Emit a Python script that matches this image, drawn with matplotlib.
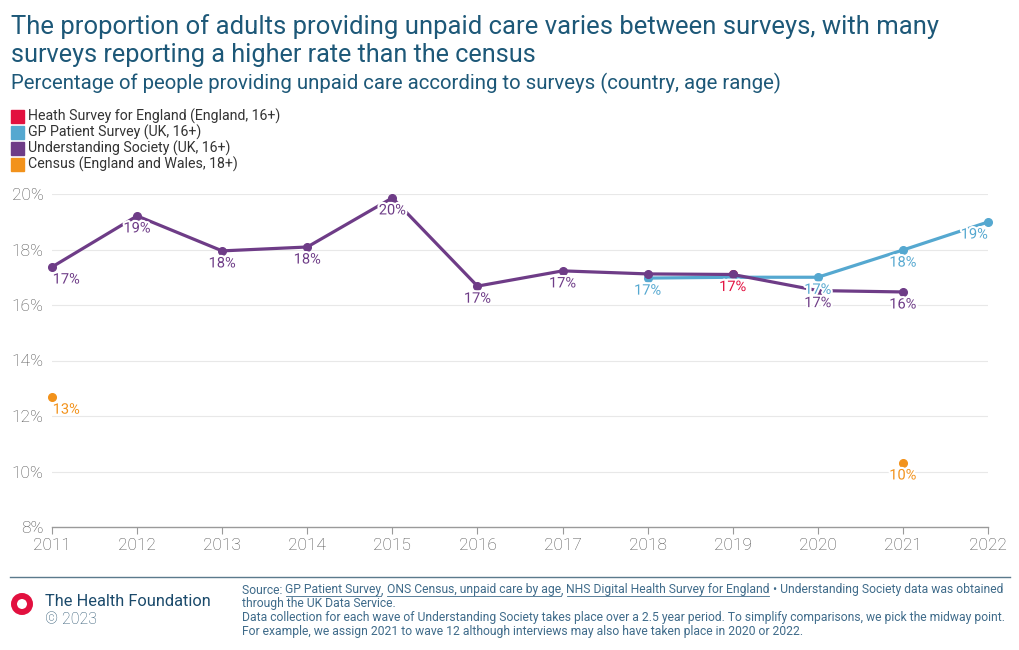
import matplotlib
matplotlib.use("Agg")
import matplotlib.pyplot as plt
import matplotlib.patheffects as pe
from matplotlib.patches import Ellipse, Rectangle
from matplotlib.lines import Line2D

# ---------------- data ----------------
years = list(range(2011, 2023))
hse_years = [2019]
hse_vals = [17.1]
gp_years = [2018, 2019, 2020, 2021, 2022]
gp_vals = [16.97, 17.0, 17.0, 17.98, 18.99]
us_years = [2011, 2012, 2013, 2014, 2015, 2016, 2017, 2018, 2019, 2020, 2021]
us_vals = [17.37, 19.21, 17.95, 18.09, 19.86, 16.68, 17.23, 17.12, 17.10, 16.52, 16.47]
census_years = [2011, 2021]
census_vals = [12.68, 10.31]
y_ticks = [8, 10, 12, 14, 16, 18, 20]
series_names = ["Heath Survey for England (England, 16+)",
                "GP Patient Survey (UK, 16+)",
                "Understanding Society (UK, 16+)",
                "Census (England and Wales, 18+)"]
# years whose labels are hidden in the reference (overlapping values)
gp_hidden = [2019]
us_hidden = [2018, 2019]

RED = "#e2103f"
BLUE = "#55a8d0"
PURPLE = "#6e3c87"
ORANGE = "#f2921b"
TITLE = "#1d5878"
GRAY = "#505050"

W, H = 1020, 650
fig = plt.figure(figsize=(W / 100, H / 100), dpi=100)
plt.rcParams["font.family"] = ["Roboto", "DejaVu Sans"]
fig.canvas.draw()
renderer = fig.canvas.get_renderer()


def fx(px):
    return px / W


def fy(py):
    return 1 - py / H


def fit_text(x, yc, s, target_w, fs, **kw):
    t = fig.text(fx(x), fy(yc), s, fontsize=fs, va="center", ha="left", **kw)
    w = t.get_window_extent(renderer).width
    t.set_fontsize(fs * target_w / w)
    return t


ax = fig.add_axes([fx(52), fy(527), fx(988) - fx(52), fy(194) - fy(527)])
ax.set_xlim(2011, 2022)
ax.set_ylim(8, 20)

for s in ["top", "right", "left"]:
    ax.spines[s].set_visible(False)
ax.spines["bottom"].set_color("#9a9a9a")
ax.spines["bottom"].set_linewidth(1.0)
ax.set_yticks(y_ticks)
ax.set_yticklabels([f"{v}%" for v in y_ticks])
ax.set_xticks(years)
ax.set_xticklabels([str(y) for y in years])
ax.tick_params(axis="y", length=0, pad=6, labelsize=12.5, labelcolor=GRAY)
ax.tick_params(axis="x", length=5, color="#9a9a9a", pad=3, labelsize=12.5, labelcolor=GRAY)
for v in y_ticks[1:]:
    ax.axhline(v, color="#e8e8e8", lw=0.8, zorder=0)
for lab in ax.get_yticklabels() + ax.get_xticklabels():
    lab.set_fontweight("light")

halo = [pe.withStroke(linewidth=3, foreground="white")]


def draw_series(xs, ys, color, line=True, z=2):
    if line:
        ax.plot(xs, ys, color=color, lw=2.3, zorder=z, solid_capstyle="round", clip_on=False)
    ax.plot(xs, ys, "o", color=color, ms=5.5, zorder=z + 0.5, clip_on=False)


def labels(xs, ys, color, hidden=(), z=5):
    for x, y in zip(xs, ys):
        if x in hidden:
            continue
        ha = "center"
        dx = 0
        if x == 2011:
            ha = "left"
            dx = 0.5
        elif x == 2022:
            ha = "right"
        ax.annotate(f"{round(y):.0f}%", (x, y), xytext=(dx, -4), textcoords="offset points",
                    ha=ha, va="top", fontsize=10.5, color=color, zorder=z,
                    path_effects=halo, annotation_clip=False)


draw_series(hse_years, hse_vals, RED, line=False, z=2)
draw_series(gp_years, gp_vals, BLUE, z=3)
draw_series(us_years, us_vals, PURPLE, z=4)
draw_series(census_years, census_vals, ORANGE, line=False, z=4)

labels(hse_years, hse_vals, RED)
labels(gp_years, gp_vals, BLUE, gp_hidden)
labels(us_years, us_vals, PURPLE, us_hidden)
labels(census_years, census_vals, ORANGE)

# ---------------- titles ----------------
fit_text(11, 27, "The proportion of adults providing unpaid care varies between surveys, with many",
         924, 19, color=TITLE)
fit_text(11, 55, "surveys reporting a higher rate than the census",
         527, 19, color=TITLE)
fit_text(11, 83, "Percentage of people providing unpaid care according to surveys (country, age range)",
         777, 14, color=TITLE)

# ---------------- legend ----------------
leg_colors = [RED, BLUE, PURPLE, ORANGE]
leg_fs = None
for i, (name, c) in enumerate(zip(series_names, leg_colors)):
    yc = 116 + i * 16
    fig.add_artist(Rectangle((fx(11), fy(yc + 7)), fx(13), 13 / H, color=c,
                             transform=fig.transFigure))
    if leg_fs is None:
        t = fit_text(28, yc, name, 253, 10, color="#333333")
        leg_fs = t.get_fontsize()
    else:
        fig.text(fx(28), fy(yc), name, fontsize=leg_fs, color="#333333", va="center",
                 ha="left")

# ---------------- footer ----------------
fig.add_artist(Line2D([fx(10), fx(1010)], [fy(577), fy(577)], color="#5b7a8c", lw=1.0,
                      transform=fig.transFigure))
fig.add_artist(Ellipse((fx(22), fy(604)), 16 / W, 16 / H, transform=fig.transFigure,
                       fill=False, edgecolor="#e2103f", lw=4.3))
fit_text(45, 601, "The Health Foundation", 165, 11, color="#1b4a6b")
fig.text(fx(45), fy(620), "\u00a9 2023", fontsize=11.5, color="#2f5873", va="center", ha="left",
         fontweight="light")

FOOT = "#3f6b8a"
line1 = [("Source: ", False), ("GP Patient Survey", True), (", ", False),
         ("ONS Census, unpaid care by age", True), (", ", False),
         ("NHS Digital Health Survey for England", True),
         (" \u2022 Understanding Society data was obtained", False)]

# footer font size chosen so that line 1 spans the same width as the reference
_probe = fig.text(0, 0, "".join(s for s, _ in line1), fontsize=8)
FS = 8 * 762 / _probe.get_window_extent(renderer).width
_probe.remove()


def footer_line(segments, x0, yc):
    x = x0
    for txt, ul in segments:
        t = fig.text(fx(x), fy(yc), txt, fontsize=FS, color=FOOT, va="center", ha="left")
        w = t.get_window_extent(renderer).width
        if ul:
            yy = fy(yc + 5.5)
            fig.add_artist(Line2D([fx(x + 0.5), fx(x + w - 0.5)], [yy, yy], color=FOOT, lw=0.6,
                                  transform=fig.transFigure))
        x += w


footer_line(line1, 242, 590)
footer_line([("through the UK Data Service.", False)], 242, 604)
footer_line([("Data collection for each wave of Understanding Society takes place over a 2.5 year period. "
              "To simplify comparisons, we pick the midway point.", False)], 242, 618)
footer_line([("For example, we assign 2021 to wave 12 although interviews may also have taken place in 2020 or 2022.",
              False)], 242, 632)

fig.savefig("out.png", dpi=100)
